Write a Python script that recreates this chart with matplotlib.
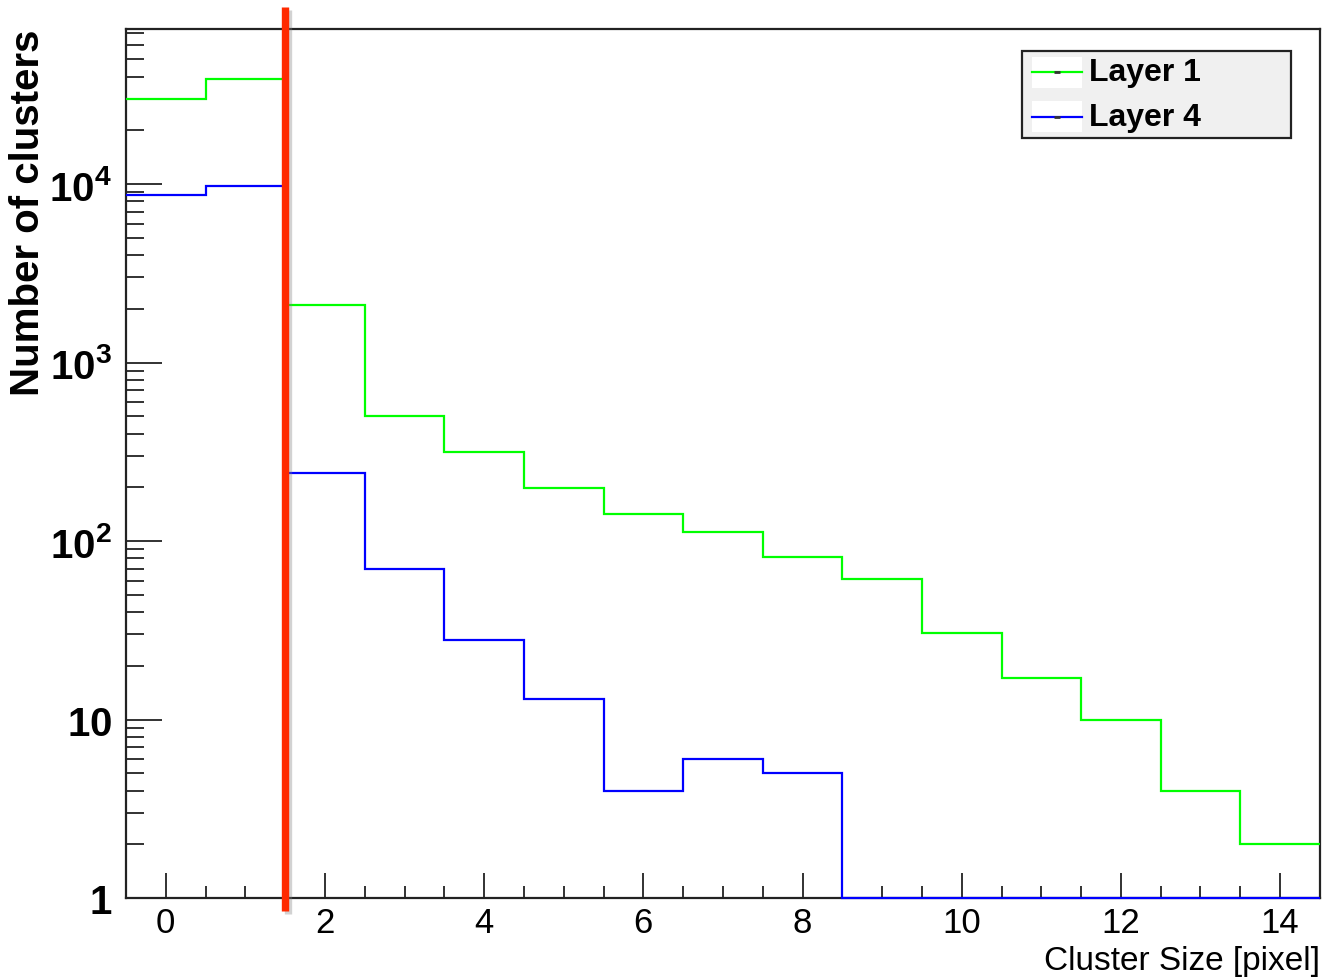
import matplotlib
matplotlib.use("Agg")
import matplotlib.pyplot as plt
import matplotlib.patheffects as pe
from matplotlib.patches import Rectangle
from matplotlib.lines import Line2D
from matplotlib.ticker import FixedLocator, FuncFormatter, MultipleLocator
import numpy as np

plt.rcParams['font.family'] = ['Liberation Sans', 'DejaVu Sans']
plt.rcParams['mathtext.fontset'] = 'custom'
plt.rcParams['mathtext.rm'] = 'Liberation Sans:bold'
plt.rcParams['mathtext.bf'] = 'Liberation Sans:bold'

# cluster size bins (pixels), one bin per integer size
sizes = np.arange(0, 15)
edges = np.arange(-0.5, 15.5, 1.0)

layer1 = [30000, 38700, 2100, 505, 315, 198, 142, 112, 81, 61, 30.5, 17, 10, 4, 2]
layer4 = [8700, 9800, 240, 70, 28, 13, 4, 6, 5, 0, 0, 0, 0, 0, 0]
labels = ["Layer 1", "Layer 4"]
colors = ["#00ff00", "#0000ff"]

cut = 1.5   # size threshold marked in red

fig = plt.figure(figsize=(13.3, 9.78), dpi=100)
ax = fig.add_axes([0.0947, 0.0808, 0.8977, 0.8885])

ax.set_yscale('log')
ax.set_xlim(-0.5, 14.5)
ax.set_ylim(1, 7.4e4)

# empty bins sit on the floor of the log axis
for vals, c in zip([layer1, layer4], colors):
    v = np.clip(np.asarray(vals, dtype=float), 1, None)
    ax.stairs(v, edges, baseline=None, color=c, lw=1.6, zorder=2.6, clip_on=False)

# threshold line, runs past the frame
ax.plot([cut, cut], [-0.015, 1.025], transform=ax.get_xaxis_transform(),
        color='#ff2a00', lw=5.3, clip_on=False, solid_capstyle='butt', zorder=5,
        path_effects=[pe.SimpleLineShadow(offset=(2, -2), shadow_color='gray', alpha=0.35),
                      pe.Normal()])

# frame and ticks
for s in ax.spines.values():
    s.set_linewidth(1.6)
    s.set_color('#222222')

ax.xaxis.set_major_locator(MultipleLocator(2))
ax.xaxis.set_minor_locator(MultipleLocator(0.5))
ax.yaxis.set_major_locator(FixedLocator([1, 10, 100, 1e3, 1e4]))
minors = [m * 10 ** d for d in range(0, 5) for m in range(2, 10)]
ax.yaxis.set_minor_locator(FixedLocator(minors))


def ylab(v, pos):
    if v < 5:
        return r"$\mathbf{1}$"
    if v < 50:
        return r"$\mathbf{10}$"
    return r"$\mathbf{10^{%d}}$" % int(round(np.log10(v)))


ax.yaxis.set_major_formatter(FuncFormatter(ylab))
ax.yaxis.set_minor_formatter(FuncFormatter(lambda v, p: ""))

ax.tick_params(axis='y', which='major', direction='in', length=26, width=1.3,
               labelsize=29, pad=10, right=False, color='#222222')
ax.tick_params(axis='y', which='minor', direction='in', length=13, width=1.3,
               right=False, color='#222222')
ax.tick_params(axis='x', which='major', direction='in', length=18, width=1.3,
               labelsize=25, pad=6, top=False, color='#222222')
ax.tick_params(axis='x', which='minor', direction='in', length=9, width=1.3,
               top=False, color='#222222')

ax.set_ylabel("Number of clusters", fontsize=29, fontweight='bold', loc='top')
ax.yaxis.set_label_coords(-0.066, 1.0)
ax.set_xlabel("Cluster Size [pixel]", fontsize=24, loc='right')
ax.xaxis.set_label_coords(1.0, -0.054)

# legend box drawn in axes coordinates
ax.add_patch(Rectangle((0.7504, 0.8746), 0.2253, 0.1001, transform=ax.transAxes,
                       facecolor='#f0f0f0', edgecolor='#222222', lw=1.6, zorder=6))
rows = [0.950, 0.899]
for y, lab, c in zip(rows, labels, colors):
    ax.add_patch(Rectangle((0.759, y - 0.018), 0.042, 0.036, transform=ax.transAxes,
                           facecolor='white', edgecolor='none', zorder=7))
    ax.add_line(Line2D([0.759, 0.801], [y, y], transform=ax.transAxes, color=c,
                       lw=1.6, zorder=8))
    ax.add_line(Line2D([0.780], [y], transform=ax.transAxes, marker='_', ms=4, mew=2,
                       color='#333333', zorder=9))
    ax.text(0.807, y, lab, transform=ax.transAxes, fontsize=23, fontweight='bold',
            va='center', ha='left', zorder=9)

fig.savefig("out.png", dpi=100, facecolor='white')
